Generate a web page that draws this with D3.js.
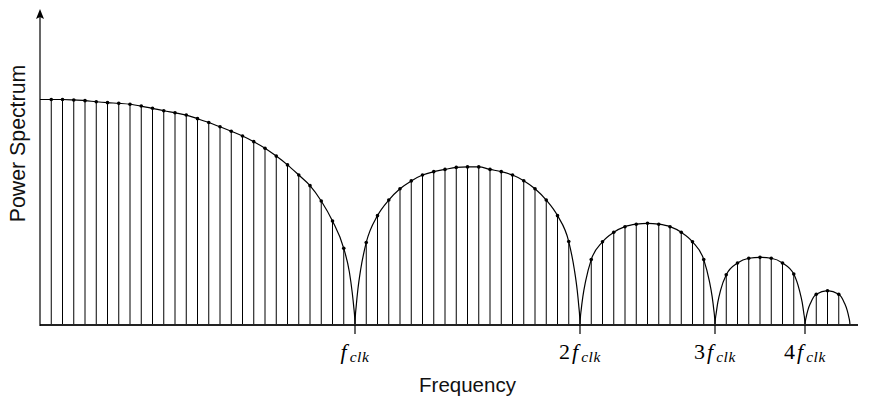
<!DOCTYPE html>
<html>
<head>
<meta charset="utf-8">
<script src="https://cdn.jsdelivr.net/npm/d3@7/dist/d3.min.js"></script>
<style>
  html, body { margin: 0; padding: 0; background: #fff; }
  svg { display: block; }
</style>
</head>
<body>
<svg id="chart" width="874" height="398"></svg>
<script>
// Sampled power spectrum of a clocked signal (relative units, DC = 100).
// One value per frequency bin; the spectrum drops to zero at each clock harmonic.
const power = [
  100, 100, 100, 99.8, 99.5, 99.0, 98.6, 98.3, 97.9, 97.1,
  96.1, 95.0, 94.1, 93.1, 91.5, 89.8, 87.9, 85.9, 83.8, 81.3,
  78.4, 74.9, 71.0, 66.5, 61.8, 55.0, 46.1, 34.0, 0,
  36.6, 48.5, 55.4, 60.4, 63.9, 66.5, 68.0, 69.0, 69.9, 70.1,
  70.1, 69.0, 68.0, 66.5, 64.0, 60.4, 55.4, 48.5, 37.0, 0,
  29.0, 36.9, 41.1, 43.6, 44.7, 45.1, 44.7, 43.6, 41.1, 36.9, 29.0, 0,
  22.3, 27.5, 29.6, 30.0, 29.6, 27.5, 22.6, 0,
  13.6, 15.2, 13.6, 0
];

// Bins where the spectrum has a null, and the lobes between them
const zeroBins = [28, 48, 60, 68, 72];
const lobes = [[0, 28], [28, 48], [48, 60], [60, 68], [68, 72]];

// Envelope just beside each null, at these fractions of a bin from it
const rimOffsets = [0.03, 0.1, 0.25, 0.5];
const rimBefore = {
  28: [3.5, 7.5, 14.5, 23.5],
  48: [3.8, 8, 15.5, 24.5],
  60: [3, 6.5, 12.5, 19.5],
  68: [2.4, 5, 10, 15.5],
  72: [1.6, 3.4, 6.5, 9.8]
};
const rimAfter = {
  28: [3.8, 8, 15.5, 24.5],
  48: [3, 6.5, 12.5, 19.5],
  60: [2.4, 5, 10, 15.5],
  68: [1.6, 3.4, 6.5, 9.8]
};

// Labelled clock harmonics
const tickBins = [28, 48, 60, 68];
const tickMultiples = ["", "2", "3", "4"];

const svg = d3.select("#chart");
const x = d3.scaleLinear().domain([0, 72]).range([40, 850]);
const y = d3.scaleLinear().domain([0, 100]).range([325, 99.5]);

// Stems for every non-null bin
const stemBins = d3.range(1, power.length).filter(i => power[i] > 0);
svg.append("g")
  .selectAll("line")
  .data(stemBins)
  .join("line")
  .attr("x1", i => x(i)).attr("x2", i => x(i))
  .attr("y1", y(0)).attr("y2", i => y(power[i]))
  .attr("stroke", "#000")
  .attr("stroke-width", 1);

// Envelope, drawn lobe by lobe so each null keeps its cusp
const envelope = d3.line()
  .x(d => x(d[0])).y(d => y(d[1]))
  .curve(d3.curveMonotoneX);

const lobePoints = lobes.map(([a, b]) => {
  const pts = [];
  if (zeroBins.includes(a)) {
    pts.push([a, 0]);
    rimOffsets.forEach((o, k) => pts.push([a + o, rimAfter[a][k]]));
  } else {
    pts.push([a, power[a]]);
  }
  for (let i = a + 1; i < b; i++) pts.push([i, power[i]]);
  for (let k = rimOffsets.length - 1; k >= 0; k--) pts.push([b - rimOffsets[k], rimBefore[b][k]]);
  pts.push([b, 0]);
  return pts;
});

svg.append("g")
  .selectAll("path")
  .data(lobePoints)
  .join("path")
  .attr("d", envelope)
  .attr("fill", "none")
  .attr("stroke", "#000")
  .attr("stroke-width", 1.2);

// Sample dots
svg.append("g")
  .selectAll("circle")
  .data(stemBins)
  .join("circle")
  .attr("cx", i => x(i))
  .attr("cy", i => y(power[i]))
  .attr("r", 1.8)
  .attr("fill", "#000");

// Frequency axis
svg.append("line")
  .attr("x1", x(0)).attr("x2", 858)
  .attr("y1", y(0)).attr("y2", y(0))
  .attr("stroke", "#222").attr("stroke-width", 1.8);

svg.append("g")
  .selectAll("line")
  .data(tickBins)
  .join("line")
  .attr("x1", i => x(i)).attr("x2", i => x(i))
  .attr("y1", y(0)).attr("y2", y(0) + 9)
  .attr("stroke", "#000").attr("stroke-width", 1.2);

const tickLabels = svg.append("g")
  .selectAll("text")
  .data(tickBins)
  .join("text")
  .attr("x", i => x(i))
  .attr("y", 359)
  .attr("text-anchor", "middle")
  .attr("font-family", "'Liberation Serif', 'DejaVu Serif', serif")
  .attr("font-size", 22)
  .attr("fill", "#000");
tickLabels.append("tspan").text((d, k) => tickMultiples[k]);
tickLabels.append("tspan").attr("font-style", "italic").attr("dx", (d, k) => tickMultiples[k] ? 2 : 0).text("f");
tickLabels.append("tspan").attr("font-style", "italic").attr("font-size", 15.5)
  .attr("letter-spacing", 0.6)
  .attr("dx", 3).attr("dy", 3).text("clk");

// Power axis with arrow head
svg.append("line")
  .attr("x1", x(0)).attr("x2", x(0))
  .attr("y1", y(0) + 1).attr("y2", 14)
  .attr("stroke", "#000").attr("stroke-width", 1.2);
svg.append("path")
  .attr("d", `M${x(0)},9 L${x(0) + 4},19 L${x(0)},17 L${x(0) - 4},19 Z`)
  .attr("fill", "#000");

// Axis titles
svg.append("text")
  .attr("x", 467.5).attr("y", 392)
  .attr("text-anchor", "middle")
  .attr("font-family", "'Liberation Sans', Arial, sans-serif")
  .attr("font-size", 20.5)
  .attr("fill", "#111")
  .text("Frequency");

svg.append("text")
  .attr("transform", "translate(25,143.5) rotate(-90)")
  .attr("text-anchor", "middle")
  .attr("font-family", "'Liberation Sans', Arial, sans-serif")
  .attr("font-size", 21.3)
  .attr("fill", "#111")
  .text("Power Spectrum");
</script>
</body>
</html>
